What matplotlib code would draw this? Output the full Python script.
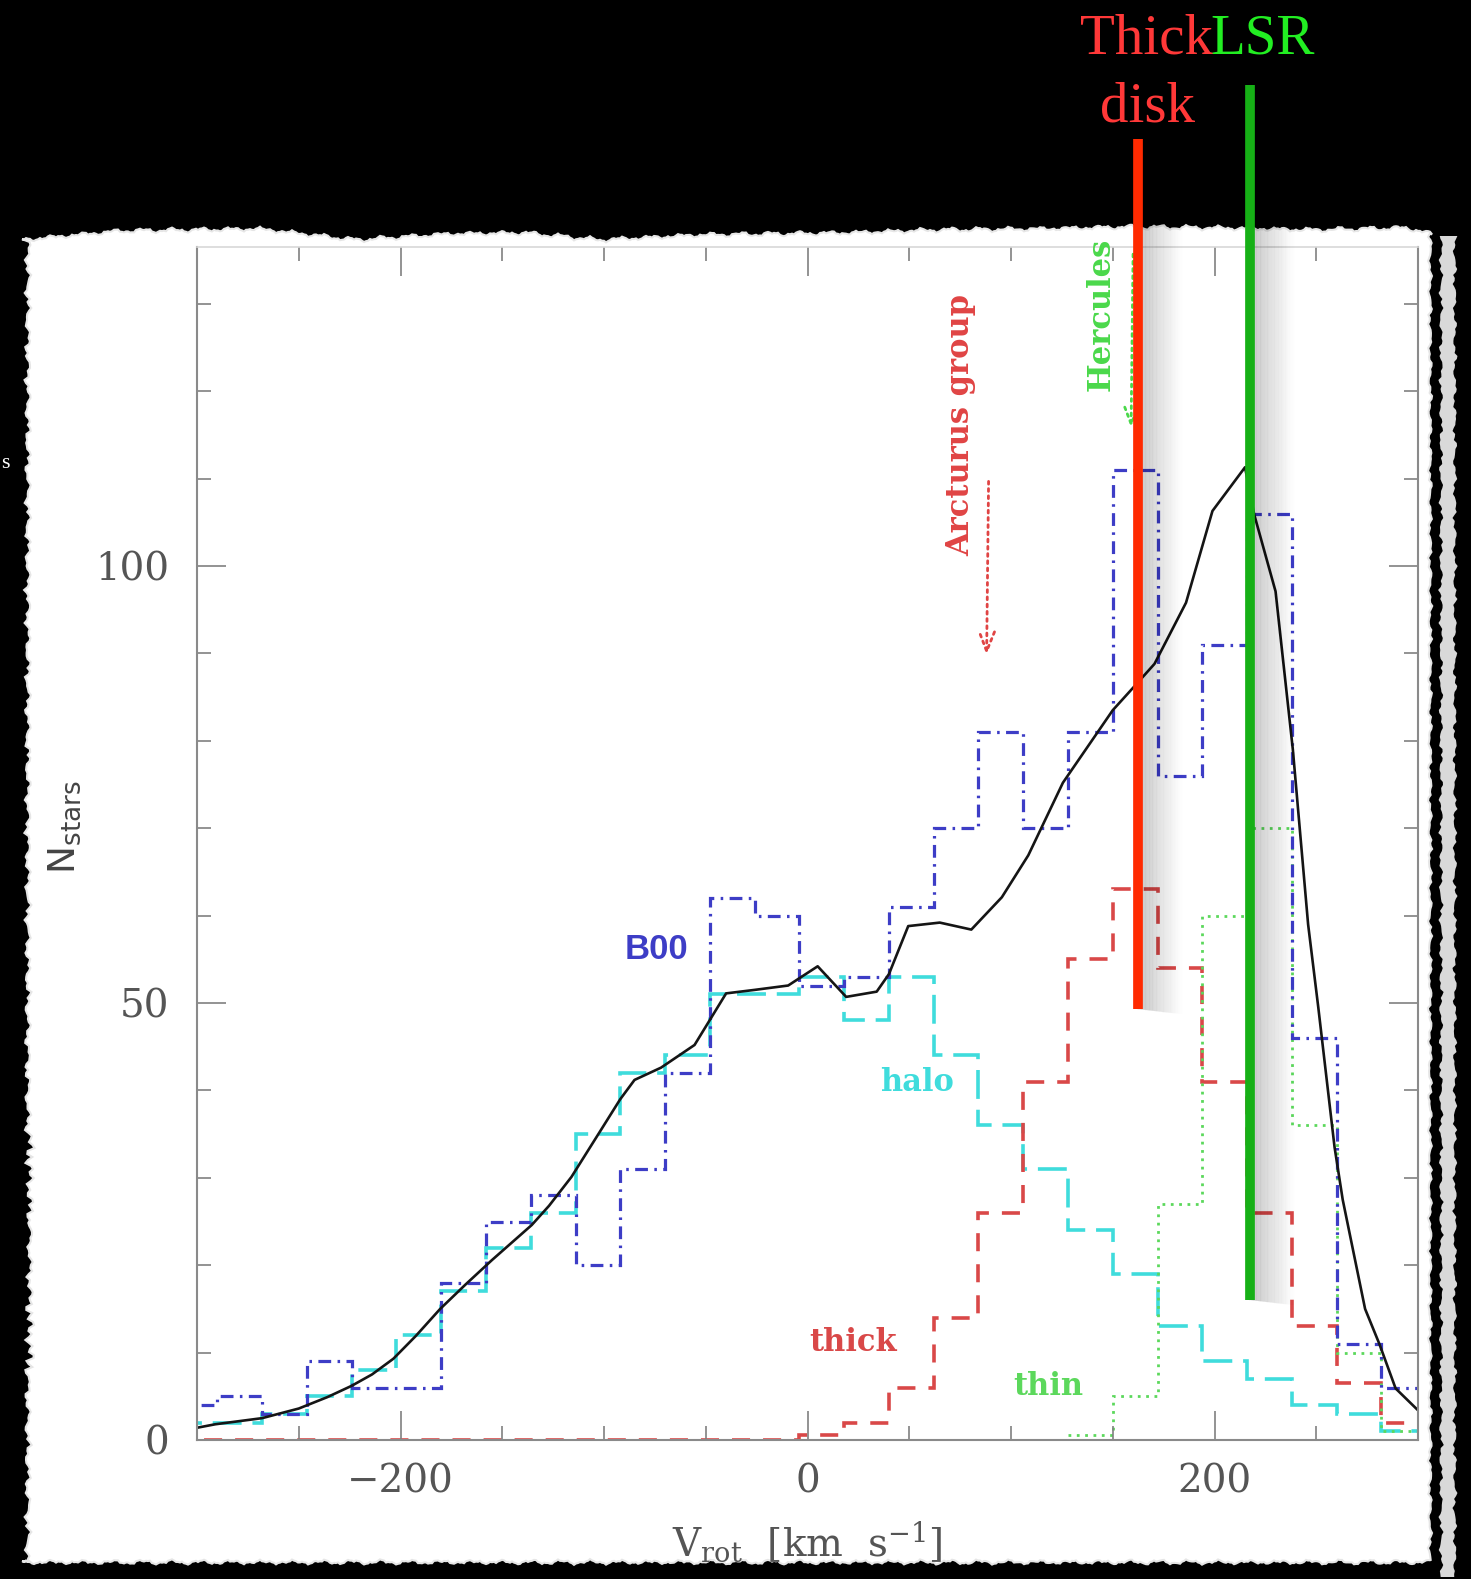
import numpy as np
import matplotlib.pyplot as plt
import matplotlib.patheffects as pe
from matplotlib.patches import Polygon
from matplotlib.ticker import MultipleLocator

W, H, DPI = 1471, 1579, 100

plt.rcParams['font.family'] = ['DejaVu Serif']
plt.rcParams['mathtext.fontset'] = 'dejavuserif'

# histogram bin edges (km/s), 22 km/s bins
edges = np.arange(-312, 305, 22)

b00 = [4, 5, 3, 9, 6, 6, 18, 25, 28, 20, 31, 42, 62, 60,
       52, 53, 61, 70, 81, 70, 81, 111, 76, 91, 106, 46, 11, 6]
halo = [2, 2, 3, 5, 8, 12, 17, 22, 26, 35, 42, 44, 51, 51,
        53, 48, 53, 44, 36, 31, 24, 19, 13, 9, 7, 4, 3, 1]
thick = [0] * 14 + [0.6, 2, 6, 14, 26, 41, 55, 63, 54, 41, 26, 13, 6.5, 2]
thin = [0] * 20 + [0.6, 5, 27, 60, 70, 36, 10, 1]

# total model (solid black curve)
model_v = [-300, -291, -268, -250, -236, -224, -214, -203.5, -192.5, -180.5,
           -168, -155, -135.5, -127, -116, -102.5, -92, -85, -72, -55.5,
           -40, -26, -9.5, 5, 19, 34, 40, 49.5, 65, 80.5,
           95.5, 108.5, 125.5, 150, 160.5, 170.5, 186, 199, 215, 219.5,
           230, 238.5, 246, 251, 259, 263, 274, 281, 289, 300]
model_n = [1.4, 1.8, 2.5, 3.6, 4.9, 6.2, 7.5, 9.3, 11.9, 15.0,
           17.8, 20.6, 24.6, 26.8, 30.1, 35.1, 39.0, 41.2, 42.6, 45.2,
           51.1, 51.5, 52.0, 54.2, 50.7, 51.3, 53.3, 58.8, 59.2, 58.4,
           62.1, 66.9, 75.2, 83.5, 86.2, 88.8, 95.8, 106.3, 111.3, 105.9,
           97.1, 79.0, 59.0, 49.5, 33.5, 27.5, 15.0, 11.0, 5.9, 3.4]

thick_disk_v = 162.3
lsr_v = 217.5

fig = plt.figure(figsize=(W / DPI, H / DPI), dpi=DPI, facecolor='black')


def fxy(px, py):
    return px / W, 1 - py / H


def jag(t, a):
    t = np.asarray(t, dtype=float)
    return a * (0.45 * np.sin(t * 0.21) + 0.3 * np.sin(t * 0.57 + 1.3)
                + 0.15 * np.sin(t * 1.37 + 0.4) + 0.1 * np.sin(t * 2.9 + 2.2))


# torn paper sheet
top_ctrl_x = [22, 120, 260, 356, 450, 525, 600, 700, 844, 938, 1040, 1125, 1220, 1313, 1407, 1432]
top_ctrl_y = [240, 231, 229, 240, 234, 233, 240, 235, 233, 230, 229, 227, 228, 230, 228, 234]
tx = np.arange(22, 1433, 2)
ty = np.interp(tx, top_ctrl_x, top_ctrl_y) + jag(tx, 3)
ry = np.arange(234, 1563, 3)
rx = 1430 + jag(ry, 2.5)
bx = np.arange(1430, 21, -2)
by = 1562 + jag(bx, 3)
ly = np.arange(1562, 239, -3)
lx = 28 + jag(ly, 4) + 4 * (np.abs(ly - 1250) < 120) * np.sin(ly * 0.3) ** 2
px = np.concatenate([tx, rx, bx, lx])
py = np.concatenate([ty, ry, by, ly])
paper = Polygon(np.column_stack([px / W, 1 - py / H]), closed=True,
                facecolor='white', edgecolor='#e6e6e6', lw=1.5,
                transform=fig.transFigure, zorder=-2)
fig.add_artist(paper)

# detached strip of the torn right edge
sy = np.arange(236, 1580, 3)
sx1 = 1441 + jag(sy, 3)
sx2 = 1455 + jag(sy + 40, 3)
strip = Polygon(np.column_stack([np.concatenate([sx1, sx2[::-1]]) / W,
                                 1 - np.concatenate([sy, sy[::-1]]) / H]),
                closed=True, facecolor='#d9d9d9', edgecolor='none',
                transform=fig.transFigure, zorder=-2)
fig.add_artist(strip)

ax = fig.add_axes([197 / W, (H - 1440) / H, (1418 - 197) / W, (1440 - 247) / H])
ax.set_facecolor('none')

hist_kw = dict(baseline=None)
ax.stairs(halo, edges, color='#3fdcdc', lw=2.6, linestyle=(0, (8, 3)), **hist_kw)
ax.stairs(thick, edges, color='#d94848', lw=2.6, linestyle=(0, (5, 3.6)), **hist_kw)
ax.stairs(thin, edges, color='#5cd85c', lw=2.0, linestyle=(0, (1, 2)), **hist_kw)
ax.stairs(b00, edges, color='#3d3dc6', lw=2.3, linestyle=(0, (4, 2, 0.8, 2)), **hist_kw)
ax.plot(model_v, model_n, color='#151515', lw=1.9)

ax.set_xlim(-300, 300)
ax.set_ylim(0, 136.5)
ax.xaxis.set_major_locator(MultipleLocator(200))
ax.xaxis.set_minor_locator(MultipleLocator(50))
ax.yaxis.set_major_locator(MultipleLocator(50))
ax.yaxis.set_minor_locator(MultipleLocator(10))
ax.tick_params(which='both', direction='in', top=True, right=True,
               color='#808080', width=1.2, labelcolor='#555555', labelsize=28)
ax.tick_params(which='major', length=21)
ax.tick_params(which='minor', length=10)
ax.tick_params(axis='y', pad=20)
ax.tick_params(axis='x', pad=17)
for side in ['left', 'bottom', 'right']:
    ax.spines[side].set_color('#8a8a8a')
    ax.spines[side].set_linewidth(1.5)
ax.spines['top'].set_color('#d8d8d8')
ax.spines['top'].set_linewidth(1.2)

ax.text(0.4996, -0.0964, r'V$_{\rm rot}$  [km  s$^{-1}$]', transform=ax.transAxes,
        ha='center', va='baseline', fontsize=28, color='#555555')
ax.text(-0.108, 0.514, r'$\mathsf{N_{stars}}$', transform=ax.transAxes,
        rotation=90, ha='center', va='center', fontsize=27, color='#444444')

# component labels
ax.text(-74.3, 56.1, 'B00', ha='center', va='center', fontsize=25,
        fontweight='bold', family='Liberation Sans', color='#3d3dc6')
lab_kw = dict(ha='center', va='center', fontsize=22, fontweight='bold')
ax.text(53.8, 40.9, 'halo', color='#3fdcdc', **lab_kw)
ax.text(22.2, 11.2, 'thick', color='#d94848', **lab_kw)
ax.text(118.1, 6.1, 'thin', color='#5cd85c', **lab_kw)
ax.text(75.1, 116.1, 'Arcturus group', rotation=90, color='#e04444', **lab_kw)
ax.text(144.3, 128.8, 'Hercules', rotation=90, color='#4ad84a', **lab_kw)

ax.annotate('', xy=(88, 89.5), xytext=(89, 110),
            arrowprops=dict(arrowstyle='->,head_length=1.4,head_width=0.55',
                            color='#e04444', lw=2, linestyle=(0, (1, 1.6))))
ax.annotate('', xy=(159, 115.5), xytext=(160, 136),
            arrowprops=dict(arrowstyle='->,head_length=1.4,head_width=0.55',
                            color='#4ad84a', lw=2, linestyle=(0, (1, 1.6))))

# marker lines for the thick disk and the LSR, with a soft shadow
shadow = [pe.SimpleLineShadow(offset=(d, -0.12 * d), shadow_color='black',
                              alpha=0.034 * (1 - d / 31.0))
          for d in np.arange(1.0, 30, 1.0)] + [pe.Normal()]
ax.plot([thick_disk_v, thick_disk_v], [49.3, 148.9], color='#ff2a00', lw=7,
        solid_capstyle='butt', clip_on=False, zorder=5, path_effects=shadow)
ax.plot([lsr_v, lsr_v], [16.0, 155.0], color='#16b016', lw=7,
        solid_capstyle='butt', clip_on=False, zorder=5, path_effects=shadow)

ttl_kw = dict(family='Liberation Serif', fontsize=41, va='baseline', ha='left')
fig.text(*fxy(1080, 53), 'Thick', color='#ff3838', **ttl_kw)
fig.text(*fxy(1210, 53), 'LSR', color='#22ee22', **ttl_kw)
fig.text(*fxy(1100, 122), 'disk', color='#ff3838', **ttl_kw)
fig.text(*fxy(1, 468), 's', color='white', family='Liberation Serif',
         fontsize=16, ha='left', va='baseline')

fig.savefig('out.png', dpi=DPI, facecolor='black')
